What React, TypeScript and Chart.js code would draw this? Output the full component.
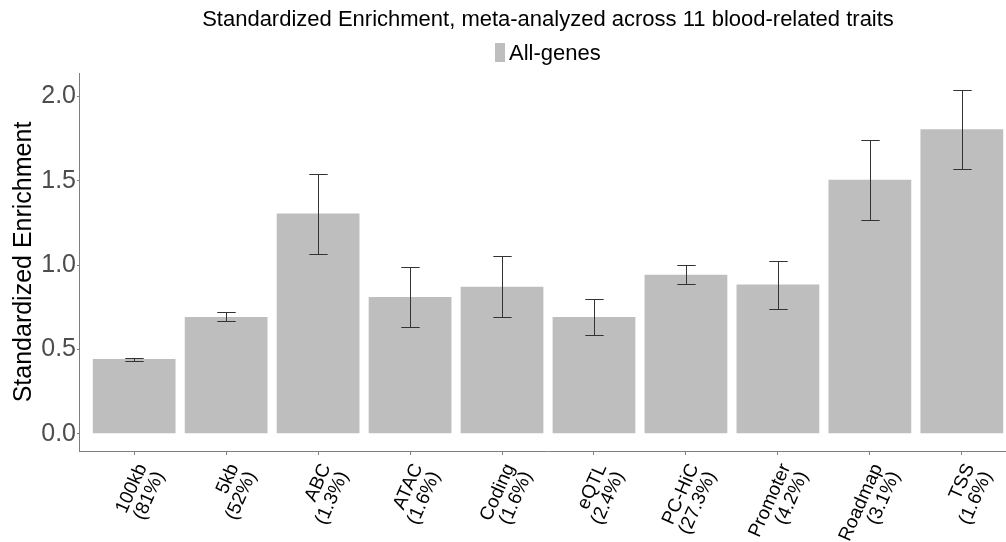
import React, { useEffect, useRef } from 'react';
import { Chart, registerables } from 'chart.js';

Chart.register(...registerables);

// Annotation categories and the share of SNPs each one covers
const categories = ['100kb', '5kb', 'ABC', 'ATAC', 'Coding', 'eQTL', 'PC-HiC', 'Promoter', 'Roadmap', 'TSS'];
const shares = ['(81%)', '(52%)', '(1.3%)', '(1.6%)', '(1.6%)', '(2.4%)', '(27.3%)', '(4.2%)', '(3.1%)', '(1.6%)'];

// Meta-analyzed standardized enrichment with lower / upper error bounds
const enrichment = [0.444, 0.692, 1.305, 0.811, 0.872, 0.692, 0.943, 0.884, 1.505, 1.804];
const lower = [0.434, 0.668, 1.068, 0.630, 0.692, 0.585, 0.888, 0.739, 1.268, 1.567];
const upper = [0.452, 0.719, 1.539, 0.990, 1.054, 0.799, 0.998, 1.024, 1.741, 2.036];

const yTicks = [0, 0.5, 1.0, 1.5, 2.0];

const seriesName = 'All-genes';
const chartTitle = 'Standardized Enrichment, meta-analyzed across 11 blood-related traits';
const yTitle = 'Standardized Enrichment';

const FONT = '"Liberation Sans", Arial, Helvetica, sans-serif';
const BAR_COLOR = '#bebebe';
const AXIS_COLOR = '#7f7f7f';

// y range: 0 .. highest upper bound, widened by 5% on both sides
const yTop = Math.max(...upper);
const yPad = yTop * 0.05;

// Discrete x positions 1..n with 0.6 units of room at each end
const xMin = 0.4;
const xMax = categories.length + 0.6;

const errorBars = {
  id: 'errorBars',
  afterDatasetsDraw(chart: any) {
    const { ctx } = chart;
    const xs = chart.scales.x;
    const ys = chart.scales.y;
    const half = xs.getPixelForValue(1.1) - xs.getPixelForValue(1);
    ctx.save();
    ctx.strokeStyle = '#333333';
    ctx.lineWidth = 1;
    categories.forEach((_, i) => {
      const cx = Math.round(xs.getPixelForValue(i + 1)) + 0.5;
      const yt = Math.round(ys.getPixelForValue(upper[i])) + 0.5;
      const yb = Math.round(ys.getPixelForValue(lower[i])) + 0.5;
      ctx.beginPath();
      ctx.moveTo(cx, yt);
      ctx.lineTo(cx, yb);
      ctx.moveTo(cx - half, yt);
      ctx.lineTo(cx + half, yt);
      ctx.moveTo(cx - half, yb);
      ctx.lineTo(cx + half, yb);
      ctx.stroke();
    });
    ctx.restore();
  },
};

// Title and single-entry legend, centred over the plotting panel
const header = {
  id: 'header',
  afterDraw(chart: any) {
    const { ctx, chartArea } = chart;
    const cx = (chartArea.left + chartArea.right) / 2;
    ctx.save();
    ctx.fillStyle = '#000000';
    ctx.textBaseline = 'alphabetic';
    ctx.textAlign = 'center';
    ctx.font = `22px ${FONT}`;
    ctx.fillText(chartTitle, cx, 25.7);

    const tw = ctx.measureText(seriesName).width;
    const boxW = 10;
    const gap = 4;
    const total = boxW + gap + tw;
    const x0 = Math.round(cx - total / 2);
    ctx.fillStyle = BAR_COLOR;
    ctx.fillRect(x0, 43, boxW, 19);
    ctx.fillStyle = '#000000';
    ctx.textAlign = 'left';
    ctx.fillText(seriesName, x0 + boxW + gap, 59.5);
    ctx.restore();
  },
};

export default function App() {
  const canvasRef = useRef<HTMLCanvasElement | null>(null);

  useEffect(() => {
    const canvas = canvasRef.current;
    if (!canvas) return;
    const chart = new Chart(canvas, {
      type: 'bar',
      data: {
        datasets: [
          {
            label: seriesName,
            data: enrichment.map((v, i) => ({ x: i + 1, y: v })),
            backgroundColor: BAR_COLOR,
            borderWidth: 0,
            categoryPercentage: 0.9,
            barPercentage: 1,
          },
        ],
      },
      options: {
        responsive: false,
        animation: false,
        devicePixelRatio: 1,
        layout: { padding: { top: 73, right: 13, bottom: 0, left: 0 } },
        plugins: {
          legend: { display: false },
          title: { display: false },
          tooltip: { enabled: false },
        },
        scales: {
          x: {
            type: 'linear',
            offset: false,
            min: xMin,
            max: xMax,
            afterBuildTicks: (s: any) => {
              s.ticks = categories.map((_, i) => ({ value: i + 1 }));
            },
            afterFit: (s: any) => {
              s.height = 91;
            },
            grid: {
              offset: false,
              drawOnChartArea: false,
              drawTicks: true,
              tickLength: 4,
              tickColor: AXIS_COLOR,
            },
            border: { display: true, color: AXIS_COLOR, width: 1 },
            ticks: {
              autoSkip: false,
              minRotation: 66,
              maxRotation: 66,
              padding: 6,
              labelOffset: 8,
              color: '#000000',
              font: { family: FONT, size: 19, lineHeight: 1.0 },
              callback: (_v: any, i: number) => [categories[i], shares[i]],
            },
          },
          y: {
            type: 'linear',
            min: -yPad,
            max: yTop + yPad,
            afterBuildTicks: (s: any) => {
              s.ticks = yTicks.map((v) => ({ value: v }));
            },
            afterFit: (s: any) => {
              s.width = 79;
            },
            grid: {
              drawOnChartArea: false,
              drawTicks: true,
              tickLength: 2,
              tickColor: AXIS_COLOR,
            },
            border: { display: true, color: AXIS_COLOR, width: 1 },
            ticks: {
              padding: 1,
              color: '#4d4d4d',
              font: { family: FONT, size: 25 },
              callback: (v: any) => Number(v).toFixed(1),
            },
            title: {
              display: true,
              text: yTitle,
              color: '#000000',
              font: { family: FONT, size: 25, lineHeight: 1.2 },
              padding: { top: 9, bottom: 0 },
            },
          },
        },
      },
      plugins: [errorBars, header],
    } as any);
    return () => chart.destroy();
  }, []);

  return (
    <div
      style={{
        position: 'fixed',
        left: 0,
        top: 0,
        width: 1006,
        height: 542,
        overflow: 'hidden',
        background: '#ffffff',
      }}
    >
      <canvas ref={canvasRef} width={1030} height={542} style={{ display: 'block' }} />
    </div>
  );
}
